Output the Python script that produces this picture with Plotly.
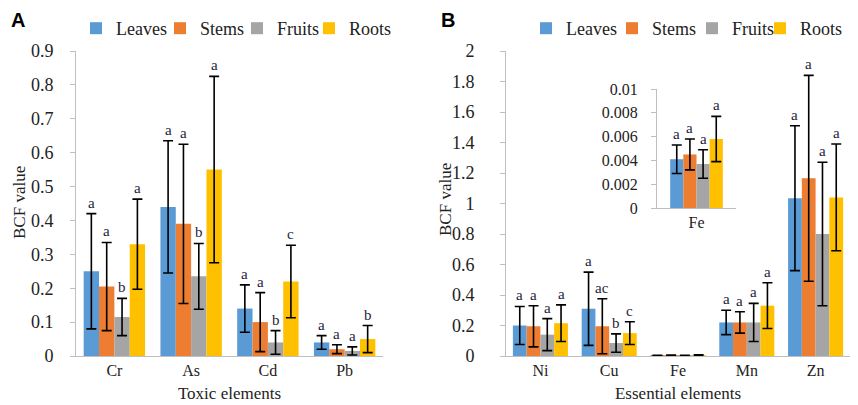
import plotly.graph_objects as go

# categories
organs = ["Leaves", "Stems", "Fruits", "Roots"]
colors = ["#5B9BD5", "#ED7D31", "#A5A5A5", "#FFC000"]
toxic = ["Cr", "As", "Cd", "Pb"]
essential = ["Ni", "Cu", "Fe", "Mn", "Zn"]

# panel A - toxic elements (mean, +/- sd)
toxic_leaves = [0.25, 0.44, 0.14, 0.04]
toxic_stems = [0.205, 0.39, 0.10, 0.02]
toxic_fruits = [0.115, 0.235, 0.04, 0.015]
toxic_roots = [0.33, 0.55, 0.22, 0.05]
toxic_leaves_err = [0.17, 0.195, 0.07, 0.02]
toxic_stems_err = [0.13, 0.235, 0.087, 0.013]
toxic_fruits_err = [0.055, 0.097, 0.035, 0.012]
toxic_roots_err = [0.133, 0.275, 0.107, 0.04]
toxic_letters_leaves = ["a", "a", "a", "a"]
toxic_letters_stems = ["a", "a", "a", "a"]
toxic_letters_fruits = ["b", "b", "b", "a"]
toxic_letters_roots = ["a", "a", "c", "b"]

# panel B - essential elements
ess_leaves = [0.20, 0.31, 0.0041, 0.22, 1.035]
ess_stems = [0.195, 0.195, 0.0045, 0.22, 1.165]
ess_fruits = [0.14, 0.085, 0.0037, 0.22, 0.80]
ess_roots = [0.215, 0.15, 0.0058, 0.33, 1.04]
ess_leaves_err = [0.125, 0.24, 0.0012, 0.08, 0.475]
ess_stems_err = [0.135, 0.18, 0.0013, 0.07, 0.675]
ess_fruits_err = [0.105, 0.06, 0.0012, 0.125, 0.47]
ess_roots_err = [0.12, 0.075, 0.0019, 0.15, 0.35]
ess_letters_leaves = ["a", "a", "a", "a", "a"]
ess_letters_stems = ["a", "ac", "a", "a", "a"]
ess_letters_fruits = ["a", "b", "a", "a", "a"]
ess_letters_roots = ["a", "c", "a", "a", "a"]

W, H = 858, 405
SERIF = "Liberation Serif"
AXIS_GRAY = "#bfbfbf"
BARGAP = 0.2

# legend symbol centres (px) for each panel
legend_a_px = [94, 178, 255, 327]
legend_b_px = [544, 630, 710, 778]

fig = go.Figure()


def add_bars(cats, series, errs, xa, ya, legends):
    for k, (name, vals, err, col) in enumerate(zip(organs, series, errs, colors)):
        fig.add_trace(go.Bar(
            x=cats, y=vals, name=name, marker_color=col,
            error_y=dict(type="data", array=err, color="black", thickness=1.6, width=5),
            xaxis=xa, yaxis=ya,
            legend=legends[k] if legends else "legend", showlegend=bool(legends),
        ))


def add_letters(cats, series, errs, letters, xref, yref, skip=()):
    w = (1 - BARGAP) / len(organs)
    for k, (vals, err, labs) in enumerate(zip(series, errs, letters)):
        for i, cat in enumerate(cats):
            if cat in skip:
                continue
            fig.add_annotation(
                x=i + (k - 1.5) * w, y=vals[i] + err[i], text=labs[i],
                xref=xref, yref=yref, showarrow=False, yanchor="bottom", yshift=1,
                font=dict(family=SERIF, size=15, color="#1e1e3c"),
            )


tox_series = [toxic_leaves, toxic_stems, toxic_fruits, toxic_roots]
tox_errs = [toxic_leaves_err, toxic_stems_err, toxic_fruits_err, toxic_roots_err]
tox_letters = [toxic_letters_leaves, toxic_letters_stems, toxic_letters_fruits, toxic_letters_roots]
ess_series = [ess_leaves, ess_stems, ess_fruits, ess_roots]
ess_errs = [ess_leaves_err, ess_stems_err, ess_fruits_err, ess_roots_err]
ess_letters = [ess_letters_leaves, ess_letters_stems, ess_letters_fruits, ess_letters_roots]

leg_names_a = ["legend", "legend2", "legend3", "legend4"]
leg_names_b = ["legend5", "legend6", "legend7", "legend8"]

add_bars(toxic, tox_series, tox_errs, "x", "y", leg_names_a)
add_bars(essential, ess_series, ess_errs, "x2", "y2", leg_names_b)

# inset: Fe only
fe = essential.index("Fe")
add_bars(["Fe"], [[s[fe]] for s in ess_series], [[e[fe]] for e in ess_errs], "x3", "y3", None)

add_letters(toxic, tox_series, tox_errs, tox_letters, "x", "y")
add_letters(essential, ess_series, ess_errs, ess_letters, "x2", "y2", skip=("Fe",))
add_letters(["Fe"], [[s[fe]] for s in ess_series], [[e[fe]] for e in ess_errs],
            [[l[fe]] for l in ess_letters], "x3", "y3")

tick_font = dict(family=SERIF, size=18, color="#222")
cat_font = dict(family=SERIF, size=16, color="#222")
title_font = dict(family=SERIF, size=17, color="#222")


def yax(dom, rng, dtick, anchor, standoff=4, size=18):
    return dict(domain=dom, range=rng, dtick=dtick, anchor=anchor, showgrid=False, zeroline=False,
                showline=True, linecolor=AXIS_GRAY, ticks="outside", ticklen=5, tickcolor=AXIS_GRAY,
                tickfont=dict(tick_font, size=size), ticklabelstandoff=standoff, automargin=False)


def xax(dom, anchor, title=None):
    d = dict(domain=dom, anchor=anchor, showgrid=False, showline=True, linecolor=AXIS_GRAY,
             ticks="", tickfont=cat_font, automargin=False)
    if title:
        d["title"] = dict(text=title, font=title_font, standoff=8)
    return d


legends = {}
for name, px in zip(leg_names_a + leg_names_b, legend_a_px + legend_b_px):
    legends[name] = dict(orientation="h", x=(px - 26) / W, y=1 - 2 / H, xanchor="left", yanchor="top",
                         font=dict(family=SERIF, size=18, color="#222"), itemwidth=30,
                         bgcolor="rgba(0,0,0,0)")

main_dom = [1 - 348 / H, 1 - 43 / H]
fig.update_layout(
    template="none",
    width=W, height=H,
    margin=dict(l=0, r=0, t=0, b=0, autoexpand=False),
    paper_bgcolor="white", plot_bgcolor="white",
    barmode="group", bargap=BARGAP, bargroupgap=0,
    xaxis=xax([68 / W, 375 / W], "y", "Toxic elements"),
    yaxis=yax(main_dom, [0, 0.9], 0.1, "x", 13),
    xaxis2=xax([498 / W, 842 / W], "y2", "Essential elements"),
    yaxis2=yax(main_dom, [0, 2], 0.2, "x2", 22),
    xaxis3=dict(xax([649 / W, 728 / W], "y3"), range=[-0.6, 0.6]),
    yaxis3=yax([1 - 200 / H, 1 - 81 / H], [0, 0.01], 0.002, "x3", 10, 16),
    showlegend=True,
    **legends,
)

# panel labels and y-axis titles
for x_px, lab in [(10, "A"), (440, "B")]:
    fig.add_annotation(x=x_px / W, y=1 - 12 / H, xref="paper", yref="paper", text="<b>%s</b>" % lab,
                       xanchor="center", yanchor="middle", showarrow=False,
                       font=dict(family="Liberation Sans", size=20, color="black"))
for x_px, y_px in [(12, 195), (437, 192)]:
    fig.add_annotation(x=x_px / W, y=1 - y_px / H, xref="paper", yref="paper", text="BCF value",
                       xanchor="center", yanchor="middle", textangle=-90, showarrow=False,
                       font=title_font)

fig.write_html("out.html")
